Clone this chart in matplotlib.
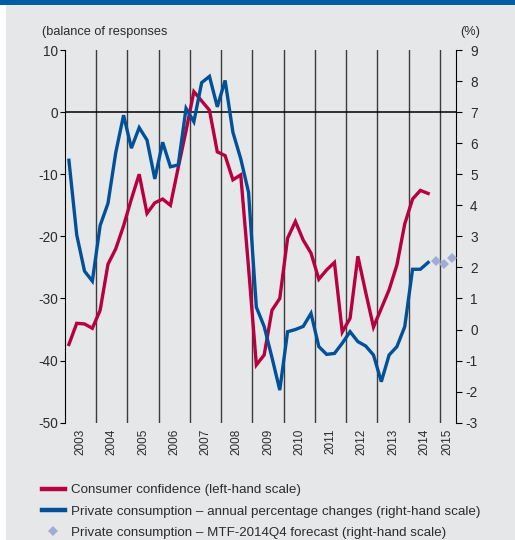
import numpy as np
import matplotlib
matplotlib.use("Agg")
import matplotlib.pyplot as plt
from matplotlib.patches import Rectangle

# ---------------- data ----------------
years = list(range(2003, 2016))
year_labels = [str(y) for y in years]

# quarterly observations 2003Q1 .. 2014Q3
confidence = [-37.4, -34.0, -34.1, -34.8, -31.9, -24.5, -22.0, -18.3,
              -14.0, -10.0, -16.3, -14.6, -14.0, -15.0, -8.9, -3.0,
              3.3, 1.8, 0.3, -6.4, -7.0, -10.9, -10.1, -25.0,
              -40.7, -39.1, -31.9, -30.0, -20.3, -17.6, -20.6, -22.7,
              -26.9, -25.4, -24.2, -35.4, -33.2, -23.2, -29.0, -34.6,
              -31.6, -28.6, -24.6, -18.0, -14.0, -12.6, -13.1]
consumption = [5.45, 3.05, 1.88, 1.56, 3.35, 4.06, 5.70, 6.90,
               5.84, 6.50, 6.10, 4.85, 6.03, 5.24, 5.30, 7.12,
               6.69, 7.95, 8.15, 7.17, 8.02, 6.35, 5.50, 4.42,
               0.72, 0.10, -0.90, -1.95, -0.07, 0.00, 0.10, 0.52,
               -0.55, -0.80, -0.77, -0.44, -0.07, -0.39, -0.53, -0.82,
               -1.68, -0.82, -0.55, 0.09, 1.94, 1.94, 2.16]
forecast_quarters = ["2014Q4", "2015Q1", "2015Q2"]
forecast = [2.22, 2.10, 2.31]

hist_quarters = [f"{y}Q{q}" for y in range(2003, 2015) for q in range(1, 5)][:len(confidence)]


def qpos(label):
    return int(label[:4]) + (int(label[-1]) - 0.5) / 4


xq = [qpos(q) for q in hist_quarters]
xf = [qpos(q) for q in forecast_quarters]

# ---------------- style ----------------
RED = "#b8003e"
BLUE = "#00509a"
DIAM = "#a1acd6"
BG = "#e6e7e9"
TXT = "#2b2b2b"

plt.rcParams["font.family"] = ["Liberation Sans", "DejaVu Sans"]
plt.rcParams["axes.unicode_minus"] = False

fig = plt.figure(figsize=(5.15, 5.4), dpi=100, facecolor=BG)
# white left strip and blue top bar
fig.patches.append(Rectangle((0, 0), 6 / 515, 1, transform=fig.transFigure,
                             facecolor="white", edgecolor="none", zorder=0))
fig.patches.append(Rectangle((0, 1 - 4.5 / 540), 1, 4.5 / 540, transform=fig.transFigure,
                             facecolor="#005ca3", edgecolor="none", zorder=1))

ax = fig.add_axes([65 / 515, 1 - 422.7 / 540, 390.5 / 515, 372.7 / 540])
ax.set_facecolor("none")
ax2 = ax.twinx()

ax.set_xlim(2003, 2015.5)
ax.set_ylim(-50, 10)
ax2.set_ylim(-3, 9)

for y in years[1:]:
    ax.axvline(y, color="#3c3c3c", lw=1.0, zorder=1)
ax.axhline(0, color="black", lw=1.1, zorder=2)

l1, = ax.plot(xq, confidence, color=RED, lw=2.4, solid_joinstyle="miter", zorder=3,
              label="Consumer confidence (left-hand scale)")
l2, = ax2.plot(xq, consumption, color=BLUE, lw=2.4, solid_joinstyle="miter", zorder=3,
               label="Private consumption \u2013 annual percentage changes (right-hand scale)")
l3, = ax2.plot(xf, forecast, ls="none", marker="D", ms=5.2, color=DIAM, mew=0,
               clip_on=False, zorder=4,
               label="Private consumption \u2013 MTF-2014Q4 forecast (right-hand scale)")

# spines
for s in ["top", "bottom", "right"]:
    ax.spines[s].set_visible(False)
for s in ["top", "bottom", "left"]:
    ax2.spines[s].set_visible(False)
ax.spines["left"].set_color("black")
ax2.spines["right"].set_color("black")

# y ticks
ax.set_yticks(range(-50, 11, 10))
ax.tick_params(axis="y", direction="out", length=3.5, width=0.8, labelsize=9.8,
               labelcolor=TXT, pad=1.5)
ax2.set_yticks(range(-3, 10))
ax2.tick_params(axis="y", direction="out", length=4.5, width=0.8, labelsize=9.8,
                labelcolor=TXT, pad=11.5)
for lab in ax2.get_yticklabels():
    lab.set_horizontalalignment("right")

# x tick labels at year centres
xpos = [y + 0.5 for y in years[:-1]] + [years[-1] + 0.25]
ax.set_xticks(xpos)
ax.set_xticklabels(year_labels, rotation=90, fontsize=8.5, color=TXT)
ax.tick_params(axis="x", length=0, pad=4.5)

fig.text(42 / 515, 1 - 32 / 540, "(balance of responses", fontsize=9.2, color=TXT,
         ha="left", va="center")
fig.text(480 / 515, 1 - 32 / 540, "(%)", fontsize=9.2, color=TXT, ha="right", va="center")

leg = fig.legend(handles=[l1, l2, l3], loc="upper left",
                 bbox_to_anchor=(42 / 515, 1 - 484 / 540), frameon=False,
                 fontsize=9.6, handlelength=1.7, handletextpad=0.45, labelspacing=0.68,
                 borderpad=0, borderaxespad=0)
for t in leg.get_texts():
    t.set_color(TXT)
for h in leg.legend_handles[:2]:
    h.set_linewidth(3.2)

fig.savefig("out.png", dpi=100, facecolor=BG)
